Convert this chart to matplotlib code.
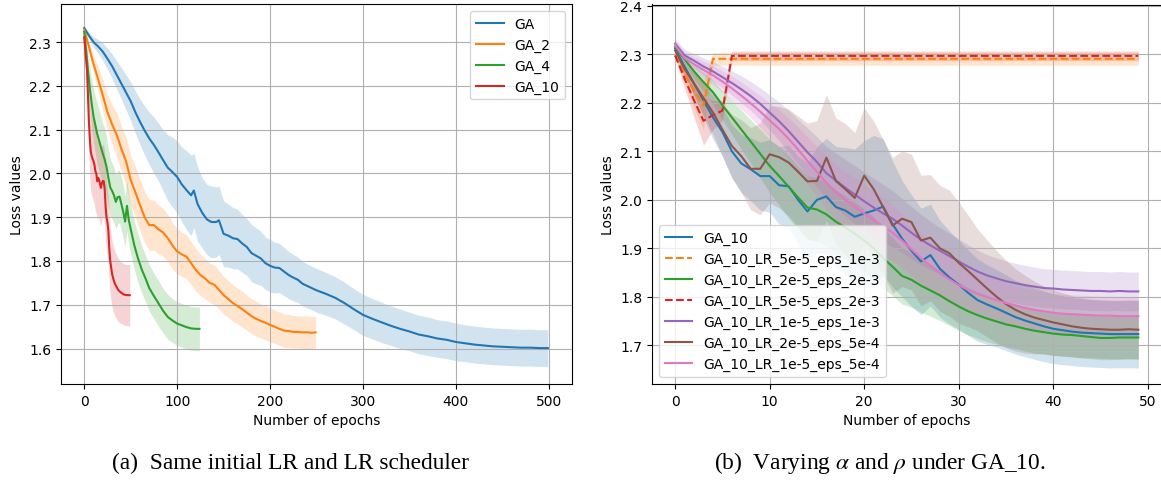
import numpy as np
import matplotlib
matplotlib.use("Agg")
import matplotlib.pyplot as plt

# ---------------- Left panel data ----------------
ga_epochs = [0, 5, 10, 15, 20, 25, 30, 35, 40, 45, 50, 55, 60, 65, 70, 75, 80, 85, 90, 95, 100, 105, 110, 115,
             118, 122, 127, 132, 137, 142, 145,
             150, 155, 160, 165, 170, 175, 180, 185, 190, 195, 200, 205, 210, 215, 220, 225, 230, 235, 240,
             250, 260, 270, 280, 290, 300, 310, 320, 330, 340, 350, 360, 370, 380, 390, 400, 410, 420, 430, 440,
             450, 460, 470, 480, 490, 499]
ga_mean = [2.332, 2.315, 2.300, 2.290, 2.278, 2.262, 2.245, 2.225, 2.205, 2.185, 2.165, 2.140, 2.118, 2.098, 2.080,
           2.065, 2.048, 2.030, 2.013, 2.003, 1.992, 1.975, 1.962, 1.950,
           1.961, 1.930, 1.910, 1.895, 1.889, 1.889, 1.893,
           1.862, 1.858, 1.852, 1.850, 1.840, 1.832, 1.818, 1.812, 1.806, 1.795, 1.789, 1.785, 1.784, 1.776, 1.768,
           1.762, 1.757, 1.748, 1.743,
           1.733, 1.725, 1.716, 1.704, 1.690, 1.677, 1.668, 1.660, 1.652, 1.645, 1.639, 1.632, 1.628, 1.623, 1.620,
           1.615, 1.612, 1.609, 1.607, 1.605, 1.604, 1.603, 1.602, 1.602, 1.601, 1.601]
ga_std = [0.005, 0.008, 0.012, 0.016, 0.020, 0.024, 0.028, 0.032, 0.036, 0.040, 0.044, 0.048, 0.052, 0.056, 0.060,
          0.064, 0.066, 0.070, 0.075, 0.080, 0.082, 0.085, 0.090, 0.092,
          0.085, 0.085, 0.080, 0.080, 0.082, 0.080, 0.078,
          0.075, 0.072, 0.070, 0.068, 0.066, 0.065, 0.065, 0.064, 0.062, 0.060, 0.060, 0.058, 0.056, 0.055, 0.054,
          0.053, 0.052, 0.051, 0.050,
          0.050, 0.049, 0.048, 0.048, 0.047, 0.047, 0.046, 0.046, 0.045, 0.045, 0.044, 0.044, 0.044, 0.043, 0.043,
          0.043, 0.042, 0.042, 0.042, 0.042, 0.042, 0.042, 0.042, 0.042, 0.042, 0.042]

ga2_epochs = [0, 5, 10, 15, 20, 25, 30, 35, 40, 45, 50, 55, 60, 65, 70, 75, 80, 85, 90, 95, 100, 105, 110, 115,
              120, 125, 130, 135, 140, 145, 150, 155, 160, 165, 170, 175, 180, 185, 190, 195, 200, 205, 210, 215,
              220, 225, 230, 235, 240, 245, 249]
ga2_mean = [2.328, 2.290, 2.250, 2.215, 2.178, 2.140, 2.112, 2.088, 2.056, 2.028, 1.985, 1.957, 1.928, 1.900, 1.882,
            1.882, 1.872, 1.865, 1.852, 1.835, 1.822, 1.815, 1.810, 1.795, 1.780, 1.768, 1.760, 1.750, 1.746, 1.734,
            1.722, 1.713, 1.704, 1.697, 1.690, 1.682, 1.674, 1.668, 1.663, 1.659, 1.654, 1.650, 1.645, 1.641, 1.640,
            1.638, 1.638, 1.637, 1.637, 1.636, 1.637]
ga2_std = [0.005, 0.012, 0.020, 0.028, 0.035, 0.040, 0.045, 0.050, 0.052, 0.055, 0.056, 0.057, 0.058, 0.058, 0.058,
           0.057, 0.056, 0.055, 0.054, 0.053, 0.052, 0.050, 0.050, 0.049, 0.048, 0.047, 0.046, 0.045, 0.045, 0.044,
           0.043, 0.042, 0.042, 0.041, 0.041, 0.040, 0.040, 0.040, 0.039, 0.039, 0.039, 0.038, 0.038, 0.038, 0.038,
           0.037, 0.037, 0.037, 0.037, 0.037, 0.037]

ga4_epochs = [0, 2, 4, 6, 8, 10, 12, 14, 16, 18, 20, 22, 24, 26, 28, 30, 32, 34, 36, 38, 40, 42, 44, 46, 48, 50,
              54, 58, 62, 66, 70, 75, 80, 85, 90, 95, 100, 105, 110, 115, 120, 124]
ga4_mean = [2.323, 2.280, 2.235, 2.195, 2.160, 2.130, 2.110, 2.090, 2.075, 2.060, 2.045, 2.032, 2.015, 1.990, 1.968,
            1.960, 1.950, 1.935, 1.946, 1.947, 1.930, 1.912, 1.890, 1.926, 1.893, 1.873, 1.835, 1.805, 1.780, 1.760,
            1.738, 1.720, 1.703, 1.686, 1.672, 1.664, 1.657, 1.653, 1.649, 1.646, 1.645, 1.645]
ga4_std = [0.005, 0.020, 0.035, 0.045, 0.055, 0.060, 0.065, 0.070, 0.070, 0.070, 0.070, 0.070, 0.068, 0.066, 0.065,
           0.064, 0.063, 0.062, 0.061, 0.060, 0.060, 0.060, 0.058, 0.058, 0.057, 0.056, 0.055, 0.055, 0.054, 0.053,
           0.053, 0.052, 0.052, 0.051, 0.051, 0.050, 0.050, 0.050, 0.050, 0.050, 0.050, 0.050]

ga10_epochs = list(range(50))
ga10_mean = [2.311, 2.285, 2.260, 2.235, 2.180, 2.120, 2.080, 2.050, 2.040, 2.033, 2.028, 2.020, 2.005, 2.000,
             1.982, 1.990, 1.986, 1.975, 1.967, 1.978, 1.983, 1.982, 1.964, 1.925, 1.900, 1.888, 1.869, 1.827,
             1.800, 1.785, 1.770, 1.762, 1.754, 1.748, 1.744, 1.740, 1.736, 1.733, 1.731, 1.729, 1.727, 1.726,
             1.724, 1.723, 1.723, 1.722, 1.722, 1.722, 1.722, 1.722]
ga10_std = [0.005, 0.020, 0.040, 0.055, 0.070, 0.080, 0.085, 0.090, 0.090, 0.090, 0.090, 0.090, 0.090, 0.090, 0.090,
            0.090, 0.090, 0.088, 0.086, 0.085, 0.084, 0.083, 0.082, 0.081, 0.080, 0.080, 0.079, 0.078, 0.077, 0.076,
            0.075, 0.075, 0.074, 0.074, 0.073, 0.073, 0.072, 0.072, 0.071, 0.071, 0.070, 0.070, 0.070, 0.070, 0.070,
            0.070, 0.070, 0.070, 0.070, 0.070]

left_labels = ["GA", "GA_2", "GA_4", "GA_10"]

# ---------------- Right panel data ----------------
r_epochs = list(range(50))
r_labels = ["GA_10", "GA_10_LR_5e-5_eps_1e-3", "GA_10_LR_2e-5_eps_2e-3", "GA_10_LR_5e-5_eps_2e-3",
            "GA_10_LR_1e-5_eps_1e-3", "GA_10_LR_2e-5_eps_5e-4", "GA_10_LR_1e-5_eps_5e-4"]

r_ga10 = [2.312, 2.275, 2.240, 2.205, 2.170, 2.140, 2.100, 2.075, 2.063, 2.049, 2.049, 2.030, 2.028, 2.000, 1.976,
          2.000, 2.007, 1.985, 1.978, 1.965, 1.972, 1.978, 1.986, 1.950, 1.920, 1.895, 1.873, 1.886, 1.858, 1.840,
          1.825, 1.808, 1.793, 1.784, 1.776, 1.767, 1.758, 1.751, 1.745, 1.739, 1.734, 1.731, 1.728, 1.726, 1.725,
          1.724, 1.723, 1.723, 1.723, 1.723]
r_ga10_std = [0.005, 0.015, 0.025, 0.035, 0.045, 0.050, 0.055, 0.060, 0.065, 0.070, 0.075, 0.080, 0.085, 0.090,
              0.100, 0.110, 0.120, 0.125, 0.130, 0.140, 0.150, 0.155, 0.140, 0.130, 0.120, 0.115, 0.110, 0.105,
              0.100, 0.096, 0.092, 0.088, 0.085, 0.082, 0.080, 0.078, 0.076, 0.075, 0.074, 0.073, 0.072, 0.071,
              0.070, 0.070, 0.070, 0.070, 0.070, 0.070, 0.070, 0.070]

r_lr5e5_1e3 = [2.298, 2.260, 2.225, 2.195] + [2.291] * 46
r_lr5e5_1e3_std = [0.005, 0.020, 0.035, 0.050] + [0.013] * 46

r_lr2e5_2e3 = [2.315, 2.290, 2.265, 2.243, 2.222, 2.195, 2.170, 2.145, 2.120, 2.095, 2.070, 2.049, 2.027, 2.005,
               1.984, 1.980, 1.970, 1.955, 1.943, 1.930, 1.916, 1.900, 1.880, 1.862, 1.843, 1.835, 1.823, 1.813,
               1.803, 1.791, 1.780, 1.770, 1.762, 1.755, 1.749, 1.743, 1.739, 1.734, 1.730, 1.727, 1.724, 1.722,
               1.721, 1.719, 1.717, 1.715, 1.715, 1.716, 1.716, 1.716]
r_lr2e5_2e3_std = [0.005, 0.010, 0.015, 0.020, 0.025, 0.030, 0.035, 0.040, 0.045, 0.050, 0.055, 0.060, 0.065,
                   0.065, 0.065, 0.065, 0.065, 0.065, 0.065, 0.065, 0.065, 0.065, 0.062, 0.060, 0.058, 0.056,
                   0.055, 0.053, 0.052, 0.050, 0.050, 0.049, 0.048, 0.048, 0.047, 0.047, 0.046, 0.046, 0.046,
                   0.045, 0.045, 0.045, 0.045, 0.045, 0.045, 0.045, 0.045, 0.045, 0.045, 0.045]

r_lr5e5_2e3 = [2.298, 2.250, 2.205, 2.163, 2.175, 2.184] + [2.297] * 44
r_lr5e5_2e3_std = [0.005, 0.020, 0.035, 0.050, 0.030, 0.020] + [0.010] * 44

r_lr1e5_1e3 = [2.322, 2.298, 2.287, 2.275, 2.265, 2.253, 2.241, 2.228, 2.214, 2.198, 2.180, 2.162, 2.142, 2.120,
               2.098, 2.078, 2.055, 2.040, 2.025, 2.011, 1.997, 1.984, 1.972, 1.961, 1.947, 1.932, 1.918, 1.906,
               1.895, 1.884, 1.873, 1.862, 1.852, 1.844, 1.838, 1.832, 1.828, 1.824, 1.821, 1.818, 1.817, 1.815,
               1.814, 1.813, 1.812, 1.812, 1.811, 1.812, 1.811, 1.811]
r_lr1e5_1e3_std = [0.010, 0.012, 0.015, 0.018, 0.020, 0.022, 0.025, 0.028, 0.030, 0.033, 0.036, 0.040, 0.043,
                   0.046, 0.050, 0.052, 0.055, 0.057, 0.058, 0.060, 0.060, 0.060, 0.060, 0.058, 0.056, 0.054,
                   0.052, 0.050, 0.048, 0.047, 0.046, 0.045, 0.044, 0.043, 0.042, 0.042, 0.041, 0.041, 0.040,
                   0.040, 0.040, 0.040, 0.040, 0.040, 0.040, 0.040, 0.040, 0.040, 0.040, 0.040]

r_lr2e5_5e4 = [2.308, 2.270, 2.240, 2.210, 2.180, 2.145, 2.111, 2.090, 2.064, 2.064, 2.094, 2.088, 2.077, 2.058,
               2.038, 2.039, 2.087, 2.039, 2.022, 2.004, 2.050, 2.022, 1.985, 1.947, 1.961, 1.954, 1.916, 1.922,
               1.900, 1.890, 1.870, 1.853, 1.835, 1.817, 1.800, 1.785, 1.773, 1.764, 1.757, 1.752, 1.747, 1.743,
               1.739, 1.736, 1.734, 1.733, 1.732, 1.732, 1.733, 1.732]
r_lr2e5_5e4_std = [0.005, 0.015, 0.025, 0.035, 0.045, 0.055, 0.065, 0.075, 0.085, 0.095, 0.100, 0.105, 0.110,
                   0.115, 0.120, 0.125, 0.130, 0.130, 0.135, 0.135, 0.140, 0.140, 0.140, 0.140, 0.140, 0.140,
                   0.135, 0.130, 0.130, 0.130, 0.125, 0.115, 0.105, 0.100, 0.095, 0.090, 0.085, 0.080, 0.075,
                   0.070, 0.068, 0.065, 0.063, 0.062, 0.060, 0.060, 0.060, 0.060, 0.060, 0.060]

r_lr1e5_5e4 = [2.319, 2.292, 2.280, 2.268, 2.257, 2.244, 2.230, 2.215, 2.199, 2.182, 2.164, 2.146, 2.126, 2.104,
               2.080, 2.058, 2.035, 2.016, 2.000, 1.986, 1.972, 1.958, 1.945, 1.932, 1.916, 1.898, 1.880, 1.864,
               1.849, 1.836, 1.824, 1.814, 1.806, 1.799, 1.793, 1.787, 1.782, 1.777, 1.773, 1.770, 1.767, 1.765,
               1.764, 1.763, 1.762, 1.761, 1.761, 1.760, 1.760, 1.760]
r_lr1e5_5e4_std = [0.010, 0.012, 0.015, 0.018, 0.020, 0.022, 0.025, 0.028, 0.030, 0.033, 0.036, 0.040, 0.043,
                   0.046, 0.050, 0.052, 0.055, 0.057, 0.058, 0.060, 0.060, 0.060, 0.060, 0.058, 0.056, 0.054,
                   0.052, 0.050, 0.048, 0.047, 0.046, 0.045, 0.044, 0.043, 0.042, 0.042, 0.041, 0.041, 0.040,
                   0.040, 0.040, 0.040, 0.040, 0.040, 0.040, 0.040, 0.040, 0.040, 0.040, 0.040]

caption_a = "(a)  Same initial LR and LR scheduler"
caption_b = r"(b)  Varying $\alpha$ and $\rho$ under GA_10."

# ---------------- Plot ----------------
plt.rcParams["mathtext.fontset"] = "stix"
fig = plt.figure(figsize=(11.61, 4.81), dpi=100)
ax1 = fig.add_axes([61 / 1161, 1 - 385 / 481, (572 - 61) / 1161, 380 / 481])
ax2 = fig.add_axes([652 / 1161, 1 - 385 / 481, (1161.5 - 652) / 1161, 379.5 / 481])

colors = plt.rcParams["axes.prop_cycle"].by_key()["color"]

left_series = [(ga_epochs, ga_mean, ga_std), (ga2_epochs, ga2_mean, ga2_std),
               (ga4_epochs, ga4_mean, ga4_std), (ga10_epochs, ga10_mean, ga10_std)]
for i, ((x, m, s), lab) in enumerate(zip(left_series, left_labels)):
    x = np.array(x); m = np.array(m); s = np.array(s)
    ax1.plot(x, m, color=colors[i], lw=1.5, label=lab)
    ax1.fill_between(x, m - s, m + s, color=colors[i], alpha=0.2, lw=0)
ax1.set_xlim(-25, 525)
ax1.set_ylim(1.519, 2.387)
ax1.set_yticks([1.6, 1.7, 1.8, 1.9, 2.0, 2.1, 2.2, 2.3])
ax1.set_xticks([0, 100, 200, 300, 400, 500])
ax1.grid(True)
ax1.set_xlabel("Number of epochs")
ax1.set_ylabel("Loss values")
ax1.legend(loc="upper right")

right_series = [(r_ga10, r_ga10_std, "-"), (r_lr5e5_1e3, r_lr5e5_1e3_std, "--"),
                (r_lr2e5_2e3, r_lr2e5_2e3_std, "-"), (r_lr5e5_2e3, r_lr5e5_2e3_std, "--"),
                (r_lr1e5_1e3, r_lr1e5_1e3_std, "-"), (r_lr2e5_5e4, r_lr2e5_5e4_std, "-"),
                (r_lr1e5_5e4, r_lr1e5_5e4_std, "-")]
x = np.array(r_epochs)
for i, ((m, s, ls), lab) in enumerate(zip(right_series, r_labels)):
    m = np.array(m); s = np.array(s)
    ax2.plot(x, m, color=colors[i], lw=1.5, ls=ls, label=lab)
    ax2.fill_between(x, m - s, m + s, color=colors[i], alpha=0.2, lw=0)
ax2.set_xlim(-2.45, 51.45)
ax2.set_ylim(1.620, 2.403)
ax2.set_yticks([1.7, 1.8, 1.9, 2.0, 2.1, 2.2, 2.3, 2.4])
ax2.set_xticks([0, 10, 20, 30, 40, 50])
ax2.grid(True)
ax2.set_xlabel("Number of epochs")
ax2.set_ylabel("Loss values")
ax2.legend(loc="lower left")

fig.text(291 / 1161, 1 - 463 / 481, caption_a, ha="center", va="center",
         fontsize=16.8, family="Liberation Serif")
fig.text(880 / 1161, 1 - 463 / 481, caption_b, ha="center", va="center",
         fontsize=16.8, family="Liberation Serif")

fig.savefig("out.png", dpi=100)
